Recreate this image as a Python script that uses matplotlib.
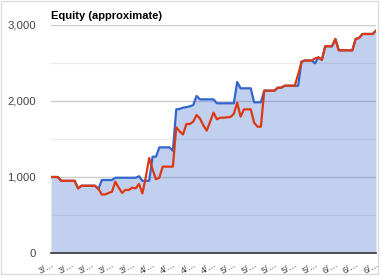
import matplotlib.pyplot as plt
from matplotlib.patches import Rectangle

# equity values, one per period (blue = strategy, red = approximate)
equity = [
    1000, 1000, 1000, 950, 950, 950, 950, 950, 850, 885,
    885, 885, 885, 885, 840, 960, 960, 960, 960, 990,
    990, 990, 990, 990, 990, 990, 1010, 950, 950, 950,
    1267, 1267, 1390, 1390, 1390, 1390, 1346, 1890, 1895, 1912,
    1920, 1930, 1947, 2066, 2022, 2022, 2022, 2022, 2022, 1970,
    1970, 1970, 1970, 1970, 1970, 2250, 2167, 2167, 2167, 2167,
    1983, 1983, 1983, 2136, 2136, 2136, 2136, 2175, 2175, 2201,
    2201, 2201, 2201, 2201, 2517, 2533, 2533, 2533, 2496, 2575,
    2540, 2720, 2720, 2720, 2816, 2667, 2667, 2667, 2667, 2667,
    2816, 2830, 2882, 2882, 2882, 2882, 2925,
]
approx = [
    1000, 1000, 1000, 950, 950, 950, 950, 950, 850, 885,
    885, 885, 885, 885, 845, 770, 770, 790, 806, 938,
    860, 790, 830, 830, 860, 850, 908, 785, 996, 1250,
    1100, 970, 990, 1136, 1136, 1136, 1136, 1654, 1600, 1560,
    1697, 1697, 1728, 1816, 1770, 1680, 1610, 1728, 1846, 1760,
    1780, 1780, 1785, 1790, 1830, 1978, 1794, 1890, 1890, 1890,
    1715, 1662, 1662, 2136, 2136, 2136, 2136, 2175, 2175, 2201,
    2201, 2201, 2201, 2350, 2517, 2533, 2533, 2533, 2560, 2575,
    2540, 2720, 2720, 2720, 2816, 2667, 2667, 2667, 2667, 2667,
    2816, 2830, 2882, 2882, 2882, 2882, 2925,
]
tick_labels = ["3/\u2026"] * 5 + ["4/\u2026"] * 4 + ["5/\u2026"] * 5 + ["6/\u2026"] * 3
label_every = 6

plt.rcParams["font.family"] = ["Liberation Sans", "DejaVu Sans"]

W, H = 382, 277
fig = plt.figure(figsize=(W / 100, H / 100), dpi=100)
ax = fig.add_axes([51 / W, 24 / H, 325 / W, 228 / H])

x = list(range(len(equity)))

for v in [500, 1500, 2500]:
    ax.axhline(v, color="#ebebeb", lw=1, zorder=0)
for v in [1000, 2000, 3000]:
    ax.axhline(v, color="#cccccc", lw=1, zorder=0)

ax.fill_between(x, equity, 0, color="#3366cc", alpha=0.3, lw=0, zorder=1)
ax.plot(x, equity, color="#3366cc", lw=1.6, zorder=2)
ax.plot(x, approx, color="#dc3912", lw=1.6, zorder=3)

ax.set_xlim(0, len(equity) - 1)
ax.set_ylim(0, 3000)
ax.set_yticks([0, 1000, 2000, 3000])
ax.set_yticklabels(["0", "1,000", "2,000", "3,000"])
ax.set_xticks(x[::label_every])
ax.set_xticklabels(tick_labels, rotation=30, ha="right", rotation_mode="anchor")

ax.tick_params(axis="y", length=0, pad=11, labelsize=8.2, labelcolor="#444444")
ax.tick_params(axis="x", length=0, pad=5, labelsize=6.5, labelcolor="#444444")

for side in ["top", "right", "left"]:
    ax.spines[side].set_visible(False)
ax.spines["bottom"].set_color("#333333")
ax.spines["bottom"].set_linewidth(1.2)
ax.spines["bottom"].set_zorder(4)

fig.text(51 / W, 1 - 19 / H, "Equity (approximate)", fontsize=8, fontweight="bold",
         color="#000000", ha="left", va="baseline")

fig.patches.append(Rectangle((0.5 / W, 3.5 / H), 377 / W, 273 / H, transform=fig.transFigure,
                             fill=False, edgecolor="#dddddd", lw=1))

fig.savefig("out.png", dpi=100)
